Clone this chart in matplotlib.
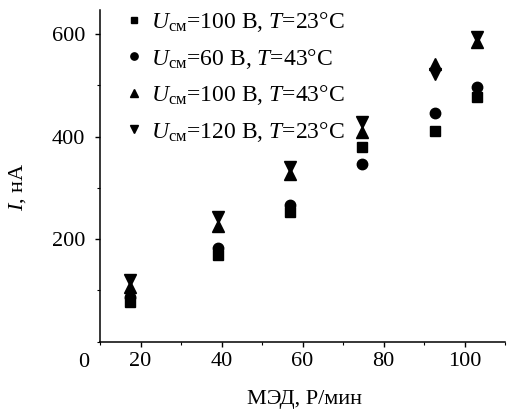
import matplotlib
matplotlib.use("Agg")
import matplotlib.pyplot as plt
from matplotlib.ticker import MultipleLocator

plt.rcParams['font.family'] = ['Liberation Serif', 'DejaVu Serif']
plt.rcParams['mathtext.fontset'] = 'custom'
plt.rcParams['mathtext.rm'] = 'Liberation Serif'
plt.rcParams['mathtext.it'] = 'Liberation Serif:italic'
plt.rcParams['mathtext.bf'] = 'Liberation Serif:bold'

# Data
dose_rate = [17.5, 39.2, 56.9, 74.6, 92.6, 103.2]
i_100v_23c = [78, 169, 253, 380, 410, 477]
i_60v_43c = [86, 182, 266, 346, 446, 497]
i_100v_43c = [106, 225, 327, 409, 541, 584]
i_120v_23c = [121, 243, 340, 428, 522, 594]

labels = [r'$U_{\mathrm{см}}$=100 В, $T$=23°C',
          r'$U_{\mathrm{см}}$=60 В, $T$=43°C',
          r'$U_{\mathrm{см}}$=100 В, $T$=43°C',
          r'$U_{\mathrm{см}}$=120 В, $T$=23°C']
xticks = [20, 40, 60, 80, 100]
yticks = [200, 400, 600]

W, H = 508, 412
fig = plt.figure(figsize=(W / 100, H / 100), dpi=100)
ax = fig.add_axes([100 / W, 1 - 341.5 / H, 405 / W, 331.5 / H])

ax.plot(dose_rate, i_100v_23c, 's', color='black', ms=7, label=labels[0], ls='none')
ax.plot(dose_rate, i_60v_43c, 'o', color='black', ms=7.5, label=labels[1], ls='none')
ax.plot(dose_rate, i_100v_43c, '^', color='black', ms=8.5, label=labels[2], ls='none')
ax.plot(dose_rate, i_120v_23c, 'v', color='black', ms=8.5, label=labels[3], ls='none')

ax.set_xlim(10, 110)
ax.set_ylim(0, 647)
ax.set_xticks(xticks)
ax.set_yticks(yticks)
ax.xaxis.set_minor_locator(MultipleLocator(10))
ax.yaxis.set_minor_locator(MultipleLocator(100))

for s in ['top', 'right']:
    ax.spines[s].set_visible(False)
for s in ['left', 'bottom']:
    ax.spines[s].set_linewidth(1.1)

ax.tick_params(axis='both', which='major', direction='out', length=3.5, width=1.0,
               labelsize=16, colors='black')
ax.tick_params(axis='y', which='major', pad=7)
ax.tick_params(axis='x', which='major', pad=4)
ax.tick_params(axis='both', which='minor', direction='out', length=2, width=0.8)

ax.set_xlabel('МЭД, Р/мин', fontsize=16, va='center')
ax.xaxis.set_label_coords(0.504, -0.176)
ax.set_ylabel(r'$I$, нА', fontsize=16, va='center')
ax.yaxis.set_label_coords(-0.204, 0.466)

ax.text(-0.0395, -0.062, '0', transform=ax.transAxes, ha='center', va='center', fontsize=16)

ax.legend(loc='upper left', bbox_to_anchor=(0.061, 1.0), frameon=False,
          fontsize=17, handlelength=0.8, handletextpad=0.32, borderpad=0,
          borderaxespad=0, labelspacing=0.53, markerscale=0.7)

fig.savefig('out.png', dpi=100)
